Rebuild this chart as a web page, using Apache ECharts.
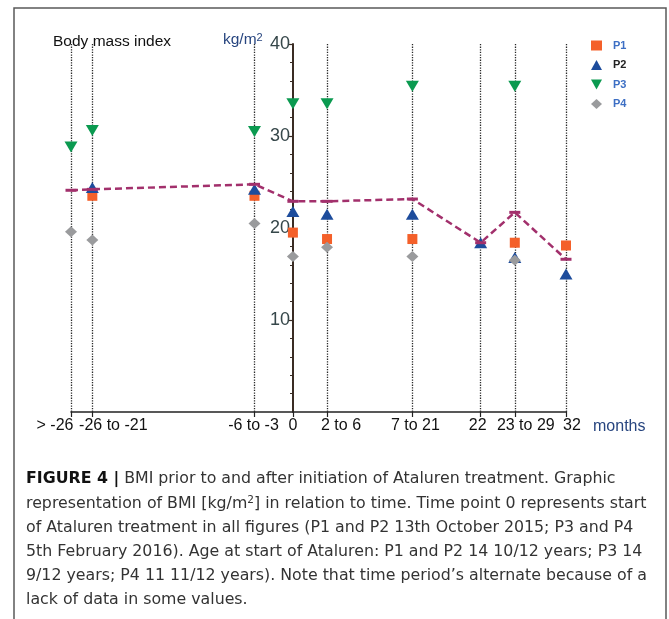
<!DOCTYPE html>
<html>
<head>
<meta charset="utf-8">
<script src="https://cdn.jsdelivr.net/npm/echarts@6/dist/echarts.min.js"></script>
<style>
html,body{margin:0;padding:0;background:#fff;}
#chart{width:669px;height:619px;}
</style>
</head>
<body>
<div id="chart"></div>
<script>
// ---- data ----
const xPositions = [-26, -23.5, -4.5, 0, 4, 14, 22, 26, 32];
const xLabels = ['> -26', '-26 to -21', '-6 to -3', '0', '2 to 6', '7 to 21', '22', '23 to 29', '32'];
const p1 = [null, 23.5, 23.5, 19.5, 18.8, 18.8, null, 18.4, 18.1];
const p2 = [null, 24.4, 24.2, 21.8, 21.5, 21.5, 18.4, 16.8, 15.0];
const p3 = [28.8, 30.6, 30.5, 33.5, 33.5, 35.4, null, 35.4, null];
const p4 = [19.6, 18.7, 20.5, 16.9, 17.9, 16.9, null, 16.5, null];
const meanBMI = [24.1, 24.2, 24.75, 22.9, 22.9, 23.15, 18.4, 21.7, 16.6];
const yTicks = [10, 20, 30, 40];
const captionLines = [
  '{b|FIGURE 4 |} BMI prior to and after initiation of Ataluren treatment. Graphic',
  'representation of BMI [kg/m{sup|2}] in relation to time. Time point 0 represents start',
  'of Ataluren treatment in all figures (P1 and P2 13th October 2015; P3 and P4',
  '5th February 2016). Age at start of Ataluren: P1 and P2 14 10/12 years; P3 14',
  '9/12 years; P4 11 11/12 years). Note that time period\u2019s alternate because of a',
  'lack of data in some values.'
];

// ---- styles (layout only) ----
const labelNudge = [-16, 21, -1, 0, 14, 3, -3, 11, 6];
const colors = {P1: '#f4602a', P2: '#1d4c9c', P3: '#0b9a50', P4: '#9a9b9d', mean: '#a2306c'};
const FONT = 'Liberation Sans, Arial, sans-serif';
const CAPFONT = 'DejaVu Sans, sans-serif';

const toPairs = arr => xPositions.map((x, i) => [x, arr[i] == null ? '-' : arr[i]]);

const rich = {};
labelNudge.forEach((n, i) => {
  rich['s' + i] = {
    fontSize: 16, color: '#111', fontFamily: FONT,
    padding: n >= 0 ? [0, 0, 0, 2 * n] : [0, -2 * n, 0, 0]
  };
});

const chart = echarts.init(document.getElementById('chart'), null, {renderer: 'canvas'});

const captionGraphics = captionLines.map((t, i) => ({
  type: 'text',
  left: 26,
  top: 471 + i * 24.2,
  style: {
    text: t,
    fontSize: 15.8,
    fontFamily: CAPFONT,
    fill: '#333',
    rich: {
      b: {fontWeight: 'bold', fontSize: 15.8, fontFamily: CAPFONT, fill: '#111'},
      sup: {fontSize: 10.5, fontFamily: CAPFONT, fill: '#333', verticalAlign: 'top', padding: [0, 0, 6, 0]}
    }
  }
}));

const yAxisX = 293; // pixel where x = 0 lies (grid left 71)
const option = {
  backgroundColor: '#fff',
  animation: false,
  grid: {left: 71, right: 103, top: 44, bottom: 207, containLabel: false},
  legend: {
    orient: 'vertical',
    left: 586,
    top: 35,
    itemWidth: 11,
    itemHeight: 10,
    itemGap: 8.5,
    textStyle: {fontSize: 11, fontFamily: FONT, fontWeight: 'bold', color: '#3d6fc4', padding: [0, 0, 0, 6]},
    data: [
      {name: 'P1', icon: 'rect'},
      {name: 'P2', icon: 'triangle', textStyle: {color: '#222'}},
      {name: 'P3', icon: 'path://M0,0L10,0L5,9Z'},
      {name: 'P4', icon: 'diamond'}
    ]
  },
  xAxis: {
    type: 'value',
    min: xPositions[0],
    max: xPositions[xPositions.length - 1],
    splitLine: {show: false},
    axisLine: {onZero: false, lineStyle: {color: '#222', width: 1.5}},
    axisTick: {show: true, length: 5, lineStyle: {color: '#222', width: 1.2}, customValues: xPositions},
    axisLabel: {
      customValues: xPositions,
      margin: 6,
      formatter: v => {
        const i = xPositions.indexOf(v);
        return i < 0 ? '' : '{s' + i + '|' + xLabels[i] + '}';
      },
      rich: rich
    }
  },
  yAxis: {
    type: 'value',
    position: 'left',
    offset: -(yAxisX - 71),
    min: 0,
    max: 40,
    interval: 10,
    splitLine: {show: false},
    axisLine: {show: true, onZero: false, lineStyle: {color: '#3a2c24', width: 2}},
    axisTick: {show: true, length: 4, lineStyle: {color: '#3a2c24', width: 1.2}, customValues: yTicks},
    minorTick: {show: true, splitNumber: 5, length: 3, lineStyle: {color: '#3a2c24', width: 1}},
    axisLabel: {
      customValues: yTicks,
      fontSize: 18, fontFamily: FONT, color: '#36474a', margin: 3
    }
  },
  graphic: [
    {type: 'rect', shape: {x: 14, y: 8, width: 652, height: 700}, style: {fill: 'none', stroke: '#5a5a5a', lineWidth: 1.5}, silent: true},
    {type: 'text', left: 53, top: 34, style: {text: 'Body mass index', fontSize: 15.5, fontFamily: FONT, fill: '#111'}},
    {type: 'text', left: 223, top: 32, style: {text: 'kg/m{sup|2}', fontSize: 15.5, fontFamily: FONT, fill: '#27457f',
      rich: {sup: {fontSize: 11, fontFamily: FONT, fill: '#27457f', verticalAlign: 'top', padding: [0, 0, 5, 0]}}}},
    {type: 'text', left: 593, top: 419, style: {text: 'months', fontSize: 16, fontFamily: FONT, fill: '#27457f'}}
  ].concat(captionGraphics),
  series: [
    {
      name: 'timepoints', type: 'scatter', data: [], z: 1, silent: true,
      markLine: {
        silent: true, symbol: 'none', label: {show: false}, animation: false, z: 1,
        lineStyle: {type: 'dotted', color: '#2a2a2a', width: 1.3},
        data: xPositions.filter(x => x !== 0).map(x => [{coord: [x, 40]}, {coord: [x, 0]}])
      }
    },
    {name: 'P1', type: 'scatter', data: toPairs(p1), symbol: 'rect', symbolSize: 10, itemStyle: {color: colors.P1, opacity: 1}, z: 3},
    {name: 'P2', type: 'scatter', data: toPairs(p2), symbol: 'triangle', symbolSize: [13, 11], itemStyle: {color: colors.P2, opacity: 1}, z: 3},
    {name: 'P3', type: 'scatter', data: toPairs(p3), symbol: 'triangle', symbolRotate: 180, symbolSize: [13, 11], itemStyle: {color: colors.P3, opacity: 1}, z: 3},
    {name: 'P4', type: 'scatter', data: toPairs(p4), symbol: 'diamond', symbolSize: [12, 11], itemStyle: {color: colors.P4, opacity: 1}, z: 3},
    {
      name: 'Mean', type: 'line', data: toPairs(meanBMI), symbol: 'rect', symbolSize: [11, 3],
      itemStyle: {color: colors.mean}, lineStyle: {color: colors.mean, width: 2.5, type: [7, 4]}, z: 4
    }
  ]
};
chart.setOption(option);
</script>
</body>
</html>
